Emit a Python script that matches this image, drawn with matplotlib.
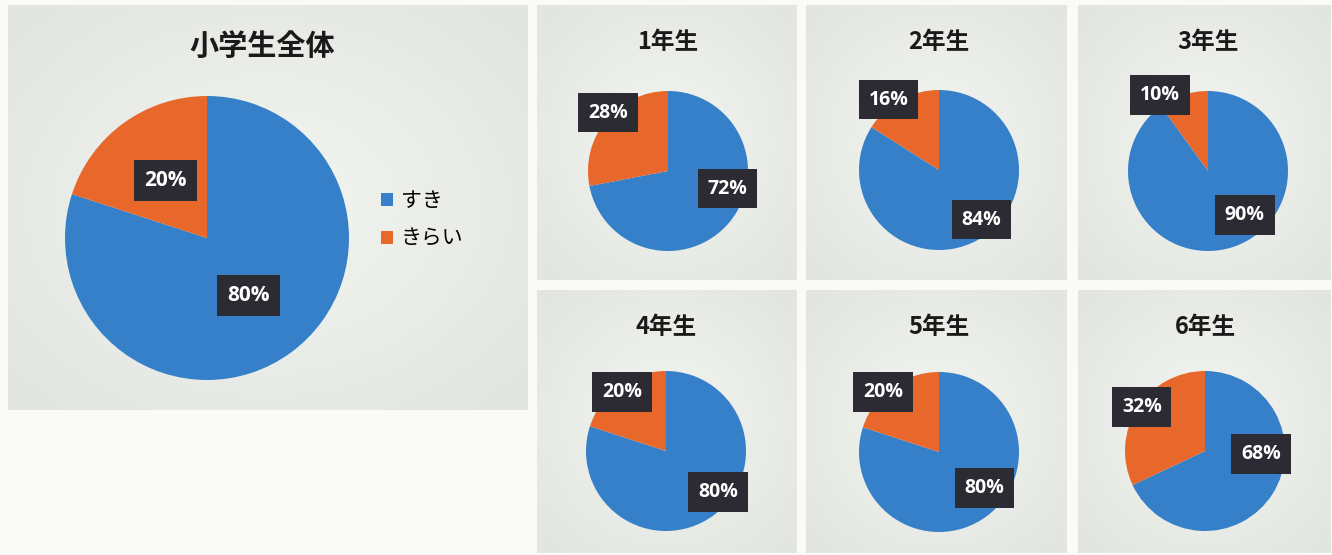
import numpy as np
import matplotlib
matplotlib.use("Agg")
import matplotlib.pyplot as plt

plt.rcParams['font.family'] = ['Noto Sans CJK JP', 'DejaVu Sans']

# survey results: share of pupils who like / dislike (percent)
categories = ['すき', 'きらい']
overall = [80, 20]
grades = ['1年生', '2年生', '3年生', '4年生', '5年生', '6年生']
like = [72, 84, 90, 80, 80, 68]
dislike = [28, 16, 10, 20, 20, 32]

BLUE = '#3580c8'
ORANGE = '#e8682b'
BOX = '#2c2a33'
W, H = 1332, 555

fig = plt.figure(figsize=(W / 100, H / 100), dpi=100)
fig.patch.set_facecolor('#fafbf7')


def px_axes(x, y, w, h, **kw):
    """axes from pixel box (top-left origin)"""
    return fig.add_axes([x / W, 1 - (y + h) / H, w / W, h / H], **kw)


def panel_bg(x, y, w, h):
    ax = px_axes(x, y, w, h, zorder=0)
    yy, xx = np.mgrid[-1:1:120j, -1:1:120j]
    d = np.clip(np.sqrt(xx ** 2 + yy ** 2) / 1.35, 0, 1)
    inner = np.array([243, 245, 241]) / 255
    outer = np.array([226, 229, 224]) / 255
    img = inner[None, None, :] * (1 - d[..., None]) + outer[None, None, :] * d[..., None]
    ax.imshow(img, extent=(0, 1, 0, 1), aspect='auto', interpolation='bilinear')
    ax.set_axis_off()


def draw_pie(cx, cy, r, values, label_xy=None, fs=13):
    ax = px_axes(cx - r, cy - r, 2 * r, 2 * r, zorder=2)
    wedges, _ = ax.pie(values, colors=[BLUE, ORANGE], startangle=90,
                       counterclock=False, radius=1,
                       wedgeprops=dict(linewidth=0))
    ax.set_xlim(-1, 1)
    ax.set_ylim(-1, 1)
    ax.set_aspect('equal')
    ax.set_axis_off()
    for i, (wdg, v) in enumerate(zip(wedges, values)):
        if label_xy is None:
            mid = np.deg2rad((wdg.theta1 + wdg.theta2) / 2)
            lx, ly = 0.5 * np.cos(mid), 0.5 * np.sin(mid)
        else:
            lx, ly = label_xy[i]
        ax.text(lx, ly, f'{v}%', ha='center', va='center', color='white',
                fontsize=fs, family=['Open Sans', 'DejaVu Sans'], fontweight='bold',
                clip_on=False, zorder=5,
                bbox=dict(boxstyle='square,pad=0.5', facecolor=BOX, edgecolor='none'))
    return ax, wedges


# big panel: all pupils
panel_bg(8, 5, 520, 405)
big_ax, big_wedges = draw_pie(207, 238, 142, overall, fs=15)
fig.text(262 / W, 1 - 46 / H, '小学生全体', ha='center', va='center',
         fontsize=21, fontweight='bold', color='#1a1a1a')
fig.legend(big_wedges, categories, loc='center left',
           bbox_to_anchor=(362 / W, 1 - 220 / H), bbox_transform=fig.transFigure,
           frameon=False, fontsize=15, handlelength=0.6, handleheight=0.6,
           handletextpad=0.35, labelspacing=0.75)

# small panels: one per grade
panel_boxes = [(537, 5, 260, 275), (806, 5, 261, 275), (1078, 5, 252, 275),
               (537, 290, 260, 263), (806, 290, 261, 263), (1078, 290, 252, 263)]
pie_centers = [(668, 171), (939, 170), (1208, 171),
               (666, 451), (939, 452), (1205, 451)]
title_y = [42, 42, 42, 327, 327, 327]
label_pos = [
    [(0.74, -0.22), (-0.75, 0.73)],
    [(0.53, -0.62), (-0.63, 0.88)],
    [(0.46, -0.55), (-0.60, 0.95)],
    [(0.65, -0.51), (-0.55, 0.74)],
    [(0.57, -0.45), (-0.70, 0.75)],
    [(0.70, -0.04), (-0.79, 0.55)],
]

for k, name in enumerate(grades):
    bx, by, bw, bh = panel_boxes[k]
    panel_bg(bx, by, bw, bh)
    cx, cy = pie_centers[k]
    draw_pie(cx, cy, 80, [like[k], dislike[k]], label_xy=label_pos[k], fs=14)
    fig.text(cx / W, 1 - title_y[k] / H, name, ha='center', va='center',
             fontsize=17, fontweight='bold', color='#1a1a1a')

fig.savefig('out.png', dpi=100, facecolor=fig.get_facecolor())
